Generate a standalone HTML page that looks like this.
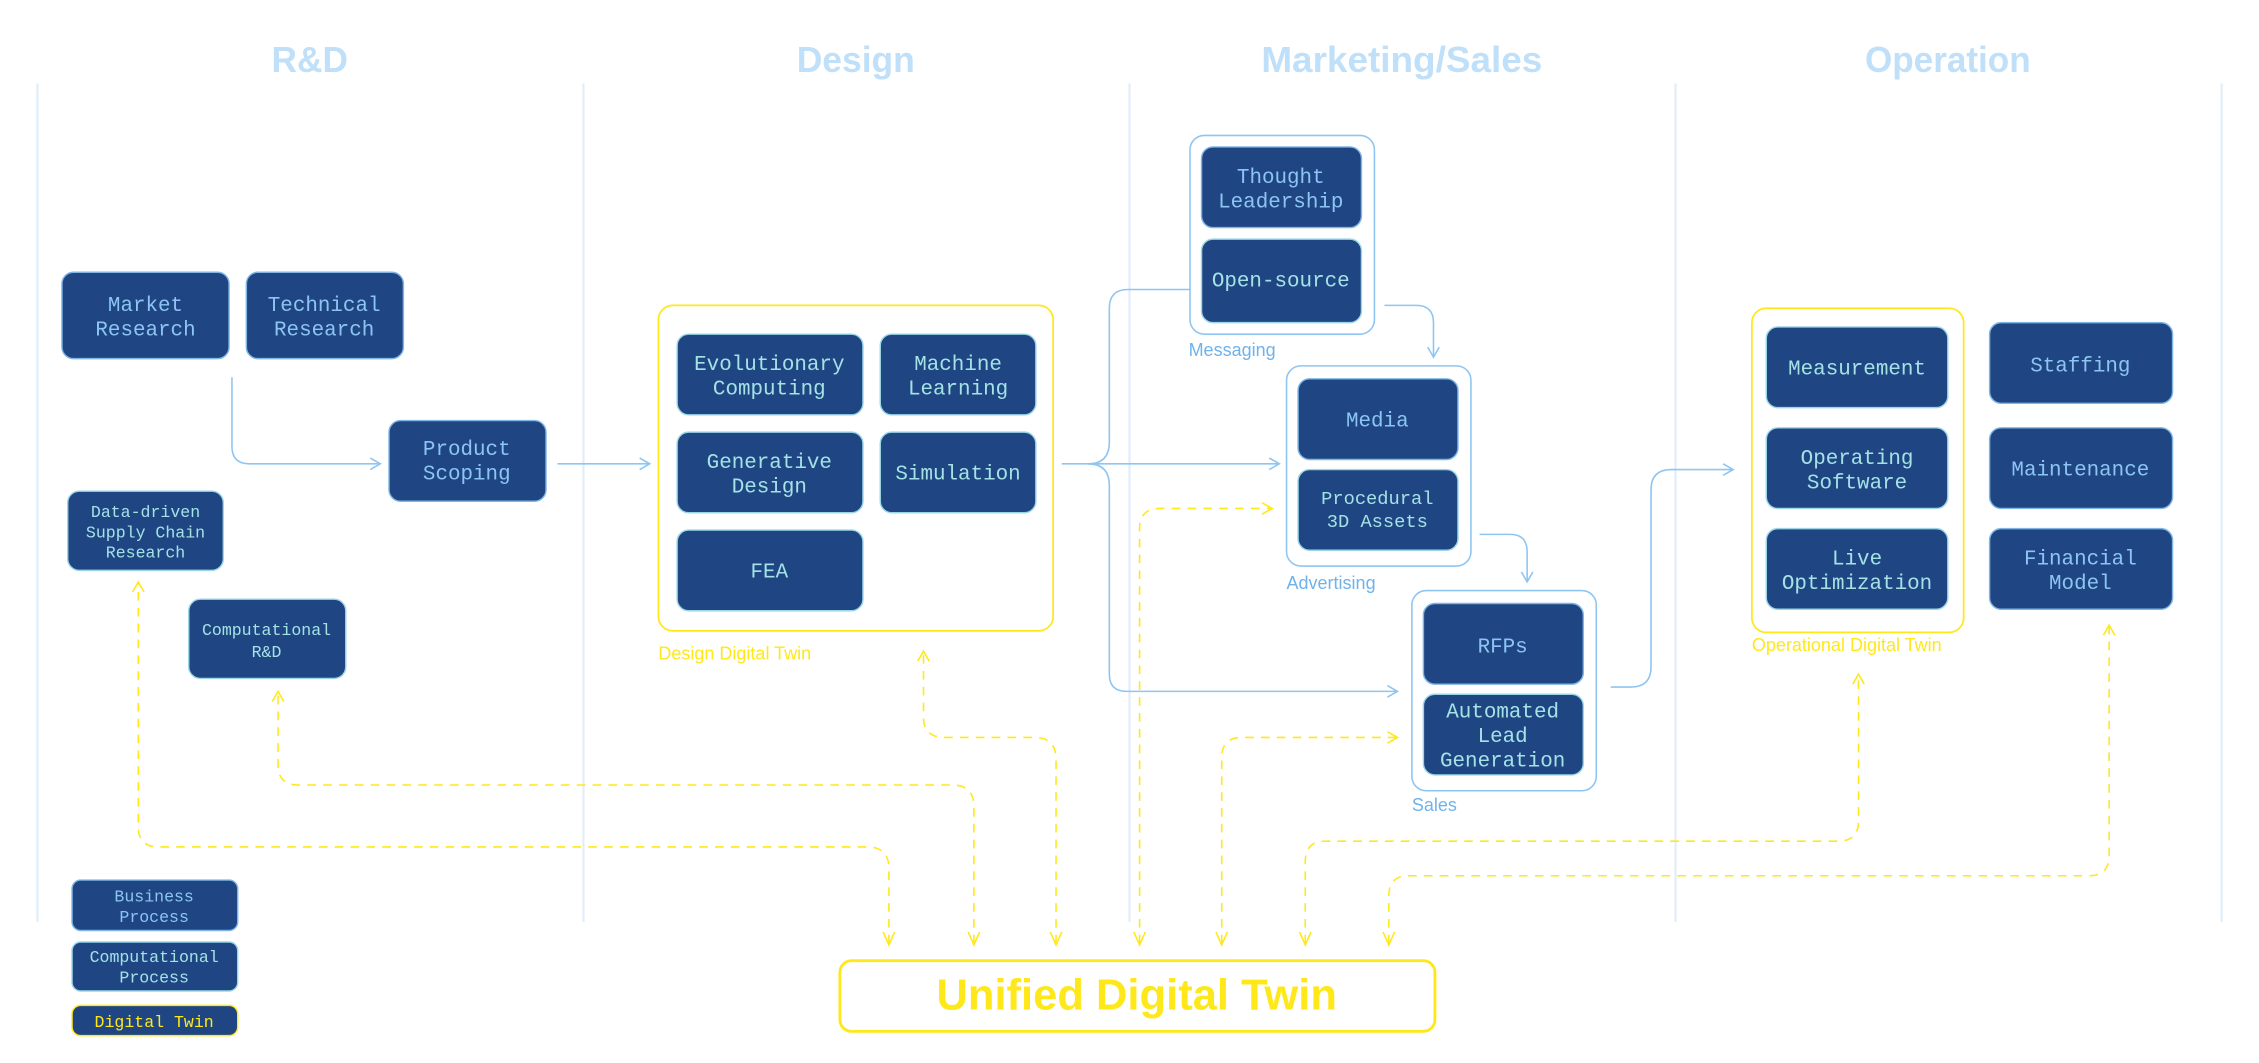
<!DOCTYPE html>
<html><head><meta charset="utf-8"><style>
html,body{margin:0;padding:0;background:#fff;}
svg{display:block;}
.h{font-family:"Liberation Sans",sans-serif;font-size:25px;font-weight:bold;fill:#bfe0f8;text-anchor:middle;}
.bx{fill:#1f4683;stroke:#7fb6e6;stroke-width:1;}
.cx{fill:#1f4683;stroke:#9ad6e6;stroke-width:1;}
.tb{font-family:"Liberation Mono",monospace;font-size:14.5px;fill:#8cc4f2;text-anchor:middle;}
.tc{font-family:"Liberation Mono",monospace;font-size:14.5px;fill:#a4e2e6;text-anchor:middle;}
.lbl{font-family:"Liberation Sans",sans-serif;font-size:12.5px;}
.ln{fill:none;stroke:#8ec5f2;stroke-width:1.1;}
.yd{fill:none;stroke:#ffe81a;stroke-width:1.1;stroke-dasharray:6 5;}
.lane{stroke:#e1edf8;stroke-width:1.5;}
</style></head><body>
<svg width="2259" height="1063" viewBox="0 0 1568 738" preserveAspectRatio="none">
<defs>
<marker id="ab" markerWidth="10" markerHeight="10" refX="8" refY="5" orient="auto" markerUnits="userSpaceOnUse"><path d="M1,1 L8,5 L1,9" fill="none" stroke="#8ec5f2" stroke-width="1.1"/></marker>
<marker id="ay" markerWidth="10" markerHeight="10" refX="8" refY="5" orient="auto" markerUnits="userSpaceOnUse"><path d="M1,1 L8,5 L1,9" fill="none" stroke="#ffe81a" stroke-width="1.1"/></marker>
</defs>
<text class="h" x="215" y="50" textLength="53" lengthAdjust="spacingAndGlyphs">R&amp;D</text>
<text class="h" x="594" y="50" textLength="82" lengthAdjust="spacingAndGlyphs">Design</text>
<text class="h" x="973" y="50" textLength="195" lengthAdjust="spacingAndGlyphs">Marketing/Sales</text>
<text class="h" x="1352" y="50" textLength="115" lengthAdjust="spacingAndGlyphs">Operation</text>
<line class="lane" x1="26" y1="58" x2="26" y2="640"/>
<line class="lane" x1="405" y1="58" x2="405" y2="640"/>
<line class="lane" x1="784" y1="58" x2="784" y2="640"/>
<line class="lane" x1="1163" y1="58" x2="1163" y2="640"/>
<line class="lane" x1="1542" y1="58" x2="1542" y2="640"/>

<!-- yellow dashed -->
<path class="yd" marker-end="url(#ay)" d="M617,655 V603 Q617,588 602,588 H110 Q96,588 96,574 V404"/>
<path class="yd" marker-end="url(#ay)" d="M676,655 V560 Q676,545 661,545 H207 Q193,545 193,531 V480"/>
<path class="yd" marker-end="url(#ay)" d="M733,655 V527 Q733,512 718,512 H656 Q641,512 641,498 V452"/>
<path class="yd" marker-end="url(#ay)" d="M791,655 V367 Q791,353 805,353 H883"/>
<path class="yd" marker-end="url(#ay)" d="M848,655 V526 Q848,512 862,512 H970"/>
<path class="yd" marker-end="url(#ay)" d="M906,655 V598 Q906,584 920,584 H1276 Q1290,584 1290,570 V468"/>
<path class="yd" marker-end="url(#ay)" d="M964,655 V622 Q964,608 978,608 H1450 Q1464,608 1464,594 V434"/>
<g fill="none" stroke="#ffe81a" stroke-width="1.1">
<path d="M613,647 L617,656 L621,647"/><path d="M672,647 L676,656 L680,647"/><path d="M729,647 L733,656 L737,647"/><path d="M787,647 L791,656 L795,647"/><path d="M844,647 L848,656 L852,647"/><path d="M902,647 L906,656 L910,647"/><path d="M960,647 L964,656 L968,647"/>
</g>

<!-- blue connectors -->
<path class="ln" marker-end="url(#ab)" d="M161,262 V310 Q161,322 173,322 H264"/>
<path class="ln" marker-end="url(#ab)" d="M387,322 H451"/>
<path class="ln" marker-end="url(#ab)" d="M737,322 H888"/>
<path class="ln" marker-end="url(#ab)" d="M755,322 Q770,322 770,307 V214 Q770,201 783,201 H847"/>
<path class="ln" marker-end="url(#ab)" d="M755,322 Q770,322 770,337 V468 Q770,480 782,480 H970"/>
<path class="ln" marker-end="url(#ab)" d="M961,212 H983 Q995,212 995,224 V248"/>
<path class="ln" marker-end="url(#ab)" d="M1027,371 H1048 Q1060,371 1060,383 V404"/>
<path class="ln" marker-end="url(#ab)" d="M1118,477 H1132 Q1146,477 1146,463 V340 Q1146,326 1160,326 H1203"/>

<!-- R&D -->
<rect class="bx" x="43" y="189" width="116" height="60" rx="8"/>
<text class="tb" x="101" y="216">Market</text><text class="tb" x="101" y="233">Research</text>
<rect class="bx" x="171" y="189" width="109" height="60" rx="8"/>
<text class="tb" x="225" y="216">Technical</text><text class="tb" x="225" y="233">Research</text>
<rect class="bx" x="270" y="292" width="109" height="56" rx="8"/>
<text class="tb" x="324" y="316">Product</text><text class="tb" x="324" y="333">Scoping</text>
<rect class="cx" x="47" y="341" width="108" height="55" rx="8"/>
<text class="tc" x="101" y="359" style="font-size:11.5px">Data-driven</text><text class="tc" x="101" y="373" style="font-size:11.5px">Supply Chain</text><text class="tc" x="101" y="387" style="font-size:11.5px">Research</text>
<rect class="cx" x="131" y="416" width="109" height="55" rx="8"/>
<text class="tc" x="185" y="441" style="font-size:11.5px">Computational</text><text class="tc" x="185" y="456" style="font-size:11.5px">R&amp;D</text>

<!-- Design -->
<rect x="457" y="212" width="274" height="226" rx="10" fill="none" stroke="#ffe81a" stroke-width="1.2"/>
<text class="lbl" x="457" y="458" fill="#ffe81a">Design Digital Twin</text>
<rect class="cx" x="470" y="232" width="129" height="56" rx="8"/>
<text class="tc" x="534" y="257">Evolutionary</text><text class="tc" x="534" y="274">Computing</text>
<rect class="cx" x="611" y="232" width="108" height="56" rx="8"/>
<text class="tc" x="665" y="257">Machine</text><text class="tc" x="665" y="274">Learning</text>
<rect class="cx" x="470" y="300" width="129" height="56" rx="8"/>
<text class="tc" x="534" y="325">Generative</text><text class="tc" x="534" y="342">Design</text>
<rect class="cx" x="611" y="300" width="108" height="56" rx="8"/>
<text class="tc" x="665" y="333">Simulation</text>
<rect class="cx" x="470" y="368" width="129" height="56" rx="8"/>
<text class="tc" x="534" y="401">FEA</text>

<!-- Marketing -->
<rect x="826" y="94" width="128" height="138" rx="10" fill="#fff" stroke="#8ec5f2" stroke-width="1.1"/>
<text class="lbl" x="825" y="247" fill="#6fb2ec">Messaging</text>
<rect class="bx" x="834" y="102" width="111" height="56" rx="8"/>
<text class="tb" x="889" y="127">Thought</text><text class="tb" x="889" y="144">Leadership</text>
<rect class="cx" x="834" y="166" width="111" height="58" rx="8"/>
<text class="tc" x="889" y="199">Open-source</text>
<rect x="893" y="254" width="128" height="139" rx="10" fill="#fff" stroke="#8ec5f2" stroke-width="1.1"/>
<text class="lbl" x="893" y="409" fill="#6fb2ec">Advertising</text>
<rect class="bx" x="901" y="263" width="111" height="56" rx="8"/>
<text class="tb" x="956" y="296">Media</text>
<rect class="cx" x="901" y="326" width="111" height="56" rx="8"/>
<text class="tc" x="956" y="350" style="font-size:13px">Procedural</text><text class="tc" x="956" y="366" style="font-size:13px">3D Assets</text>
<rect x="980" y="410" width="128" height="139" rx="10" fill="#fff" stroke="#8ec5f2" stroke-width="1.1"/>
<text class="lbl" x="980" y="563" fill="#6fb2ec">Sales</text>
<rect class="bx" x="988" y="419" width="111" height="56" rx="8"/>
<text class="tb" x="1043" y="453">RFPs</text>
<rect class="cx" x="988" y="482" width="111" height="56" rx="8"/>
<text class="tc" x="1043" y="498">Automated</text><text class="tc" x="1043" y="515">Lead</text><text class="tc" x="1043" y="532">Generation</text>

<!-- Operation -->
<rect x="1216" y="214" width="147" height="225" rx="10" fill="none" stroke="#ffe81a" stroke-width="1.2"/>
<text class="lbl" x="1216" y="452" fill="#ffe81a">Operational Digital Twin</text>
<rect class="cx" x="1226" y="227" width="126" height="56" rx="8"/>
<text class="tc" x="1289" y="260">Measurement</text>
<rect class="cx" x="1226" y="297" width="126" height="56" rx="8"/>
<text class="tc" x="1289" y="322">Operating</text><text class="tc" x="1289" y="339">Software</text>
<rect class="cx" x="1226" y="367" width="126" height="56" rx="8"/>
<text class="tc" x="1289" y="392">Live</text><text class="tc" x="1289" y="409">Optimization</text>
<rect class="bx" x="1381" y="224" width="127" height="56" rx="8"/>
<text class="tb" x="1444" y="258">Staffing</text>
<rect class="bx" x="1381" y="297" width="127" height="56" rx="8"/>
<text class="tb" x="1444" y="330">Maintenance</text>
<rect class="bx" x="1381" y="367" width="127" height="56" rx="8"/>
<text class="tb" x="1444" y="392">Financial</text><text class="tb" x="1444" y="409">Model</text>

<!-- Unified -->
<rect x="583" y="667" width="413" height="49" rx="8" fill="#fff" stroke="#ffe81a" stroke-width="2"/>
<text x="789" y="701" text-anchor="middle" font-family="Liberation Sans, sans-serif" font-size="30" font-weight="bold" fill="#ffe81a" textLength="278" lengthAdjust="spacingAndGlyphs">Unified Digital Twin</text>

<!-- Legend -->
<rect class="bx" x="50" y="611" width="115" height="35" rx="6"/>
<text class="tb" x="107" y="626" style="font-size:11.5px">Business</text><text class="tb" x="107" y="640" style="font-size:11.5px">Process</text>
<rect class="cx" x="50" y="654" width="115" height="34" rx="6"/>
<text class="tc" x="107" y="668" style="font-size:11.5px">Computational</text><text class="tc" x="107" y="682" style="font-size:11.5px">Process</text>
<rect x="50" y="698" width="115" height="21" rx="6" fill="#1f4683" stroke="#ffe81a" stroke-width="1"/>
<text x="107" y="713" text-anchor="middle" font-family="Liberation Mono, monospace" font-size="11.5" fill="#ffe81a">Digital Twin</text>
</svg>
</body></html>
